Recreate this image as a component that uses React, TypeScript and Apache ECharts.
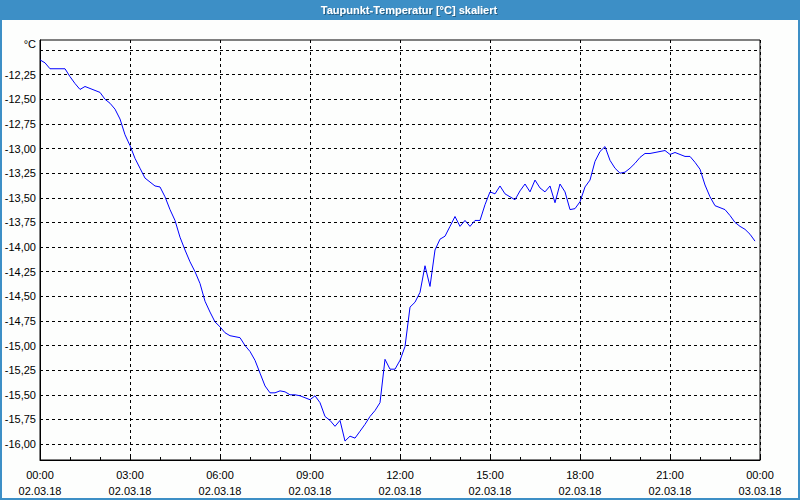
import React, { useEffect, useRef } from "react";
import * as echarts from "echarts";

const TITLE = "Taupunkt-Temperatur [°C] skaliert";
const UNIT = "°C";

// minutes since 02.03.18 00:00
const minutes: number[] = [
  0, 10, 20, 30, 40, 50, 60, 70, 80, 90, 100, 110, 120, 130, 140, 150, 160, 170,
  180, 190, 200, 210, 220, 230, 240, 250, 260, 270, 280, 290, 300, 310, 320, 330,
  340, 350, 360, 370, 380, 390, 400, 410, 420, 430, 440, 450, 460, 470, 480, 490,
  500, 510, 520, 530, 540, 550, 560, 570, 580, 590, 600, 610, 620, 630, 640, 650,
  660, 670, 680, 690, 700, 710, 720, 730, 740, 750, 760, 770, 780, 790, 800, 810,
  820, 830, 840, 850, 860, 870, 880, 890, 900, 910, 920, 930, 940, 950, 960, 970,
  980, 990, 1000, 1010, 1020, 1030, 1040, 1050, 1060, 1070, 1080, 1090, 1100, 1110,
  1120, 1130, 1140, 1150, 1160, 1170, 1180, 1190, 1200, 1210, 1220, 1230, 1240,
  1250, 1260, 1270, 1280, 1290, 1300, 1310, 1320, 1330, 1340, 1350, 1360, 1370,
  1380, 1390, 1400, 1410, 1420, 1430,
];

const dewPoint: number[] = [
  -12.10, -12.13, -12.19, -12.19, -12.19, -12.19, -12.27, -12.34, -12.40, -12.37,
  -12.39, -12.41, -12.43, -12.50, -12.54, -12.60, -12.70, -12.86, -12.97, -13.10,
  -13.20, -13.30, -13.34, -13.38, -13.39, -13.49, -13.62, -13.73, -13.90, -14.03,
  -14.15, -14.25, -14.37, -14.55, -14.66, -14.76, -14.81, -14.87, -14.90, -14.91,
  -14.92, -15.00, -15.06, -15.15, -15.28, -15.41, -15.48, -15.48, -15.46, -15.47,
  -15.50, -15.50, -15.51, -15.53, -15.55, -15.51, -15.58, -15.72, -15.76, -15.82,
  -15.76, -15.97, -15.92, -15.94, -15.87, -15.80, -15.72, -15.66, -15.58, -15.14,
  -15.24, -15.24, -15.15, -15.01, -14.61, -14.56, -14.46, -14.19, -14.40, -14.03,
  -13.92, -13.89, -13.79, -13.69, -13.79, -13.73, -13.79, -13.73, -13.73, -13.57,
  -13.44, -13.46, -13.38, -13.46, -13.49, -13.52, -13.43, -13.36, -13.44, -13.32,
  -13.40, -13.44, -13.38, -13.55, -13.36, -13.44, -13.62, -13.61, -13.54, -13.39,
  -13.32, -13.13, -13.03, -12.98, -13.12, -13.20, -13.25, -13.24, -13.20, -13.15,
  -13.09, -13.05, -13.05, -13.04, -13.03, -13.02, -13.06, -13.04, -13.06, -13.08,
  -13.08, -13.14, -13.21, -13.37, -13.49, -13.58, -13.60, -13.62, -13.68, -13.75,
  -13.79, -13.82, -13.87, -13.94,
];

const yTickValues: number[] = [
  -16.0, -15.75, -15.5, -15.25, -15.0, -14.75, -14.5, -14.25, -14.0, -13.75, -13.5,
  -13.25, -13.0, -12.75, -12.5, -12.25, -12.0,
];
const yLabelValues: number[] = [
  -16.0, -15.75, -15.5, -15.25, -15.0, -14.75, -14.5, -14.25, -14.0, -13.75, -13.5,
  -13.25, -13.0, -12.75, -12.5, -12.25,
];

const xDates: string[] = ["02.03.18", "03.03.18"];

const FRAME = "#3d8fc6";
const FONT = "Liberation Sans";

export default function App() {
  const ref = useRef<HTMLDivElement>(null);
  useEffect(() => {
    if (!ref.current) return;
    const chart = echarts.init(ref.current, undefined, { renderer: "svg" });
    const data = minutes.map((m, i) => [m, dewPoint[i]]);
    chart.setOption({
      animation: false,
      backgroundColor: "#fdfefd",
      grid: {
        left: 40,
        right: 40,
        top: 40,
        bottom: 40,
        show: true,
        borderColor: "#000",
        borderWidth: 1,
        backgroundColor: "transparent",
      },
      graphic: [
        { type: "rect", shape: { x: 0, y: 0, width: 800, height: 20 }, style: { fill: FRAME } },
        {
          type: "rect",
          shape: { x: 1, y: 1, width: 798, height: 498 },
          style: { fill: "none", stroke: FRAME, lineWidth: 2 },
        },
        {
          type: "text",
          x: 409,
          y: 10,
          style: {
            text: TITLE,
            fill: "#fff",
            font: `bold 11px "${FONT}"`,
            align: "center",
            verticalAlign: "middle",
            textShadowColor: "rgba(0,0,0,0.35)",
            textShadowBlur: 1,
            textShadowOffsetX: 1,
            textShadowOffsetY: 1,
          },
        },
        {
          type: "text",
          x: 36,
          y: 44,
          style: {
            text: UNIT,
            fill: "#000",
            font: `11px "${FONT}"`,
            align: "right",
            verticalAlign: "middle",
          },
        },
      ],
      xAxis: {
        type: "value",
        min: 0,
        max: 1440,
        interval: 180,
        axisLine: { show: true, lineStyle: { color: "#000", width: 1 } },
        axisTick: { show: true, inside: true, length: 3, lineStyle: { color: "#000" } },
        minorTick: { show: true, splitNumber: 3, length: 3, lineStyle: { color: "#000" } },
        splitLine: { show: true, lineStyle: { color: "#000", type: [3, 3], width: 1 } },
        axisLabel: {
          color: "#000",
          fontFamily: FONT,
          fontSize: 11,
          lineHeight: 16,
          margin: 7,
          formatter: (v: number) => {
            const h = Math.floor(v / 60) % 24;
            const mm = Math.round(v % 60);
            const d = v >= 1440 ? xDates[1] : xDates[0];
            return `${String(h).padStart(2, "0")}:${String(mm).padStart(2, "0")}\n${d}`;
          },
        },
      },
      yAxis: {
        type: "value",
        min: -16.162,
        max: -11.898,
        axisLine: { show: true, lineStyle: { color: "#000", width: 1 } },
        axisTick: { show: false, customValues: yTickValues },
        splitLine: { show: true, lineStyle: { color: "#000", type: [3, 3], width: 1 } },
        axisLabel: {
          customValues: yLabelValues,
          color: "#000",
          fontFamily: FONT,
          fontSize: 11,
          margin: 4,
          formatter: (v: number) => v.toFixed(2).replace(".", ","),
        },
      },
      series: [
        {
          type: "line",
          data,
          showSymbol: false,
          symbol: "none",
          lineStyle: { color: "#0000ff", width: 1 },
          itemStyle: { color: "#0000ff" },
        },
      ],
    });
    return () => chart.dispose();
  }, []);
  return (
    <div
      ref={ref}
      style={{ position: "fixed", left: 0, top: 0, width: 800, height: 500 }}
    />
  );
}
